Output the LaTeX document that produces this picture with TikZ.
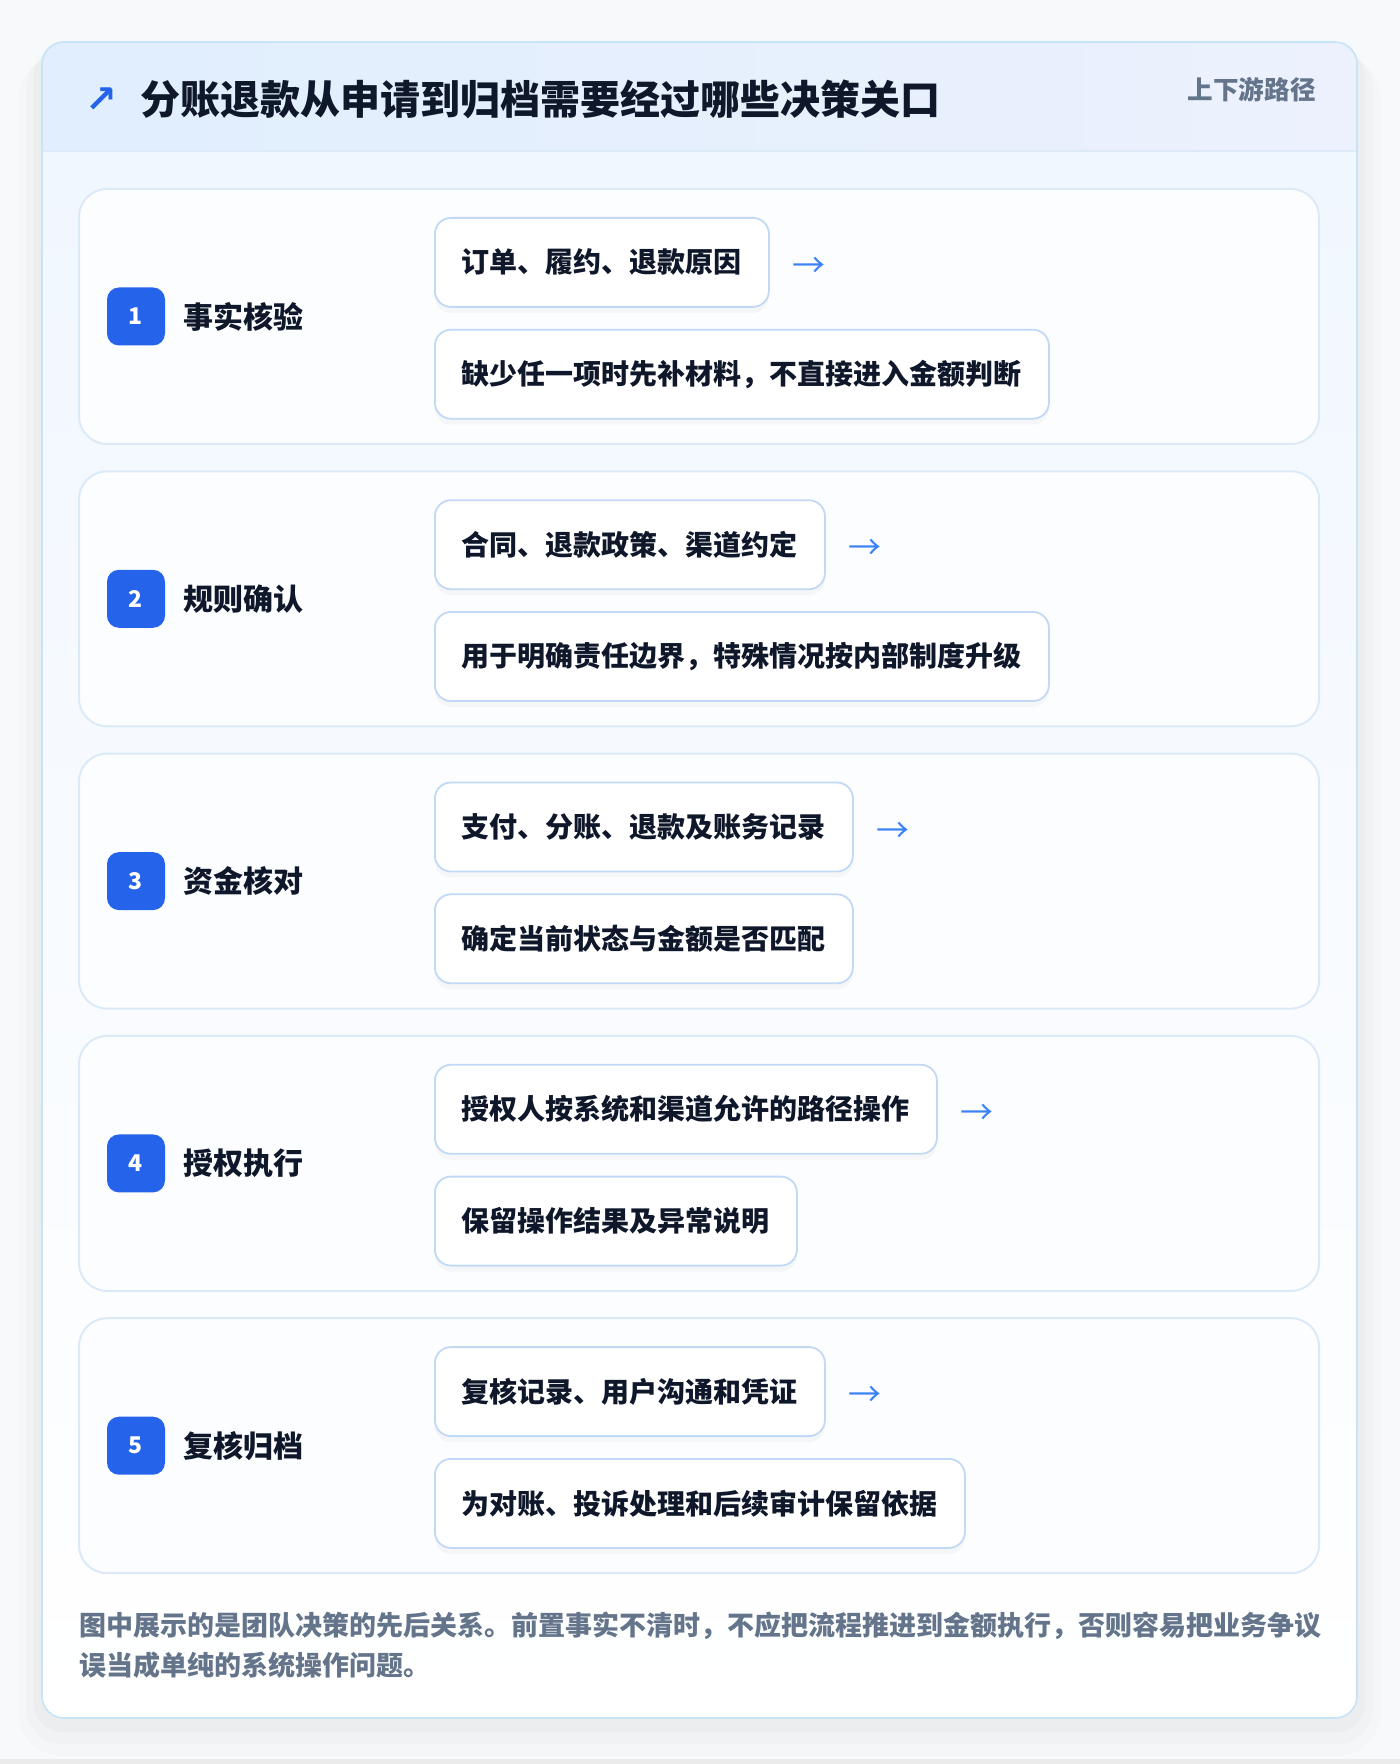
\documentclass[tikz,border=0pt]{standalone}
\usepackage{fontspec}
\setmainfont{Noto Sans CJK SC}
\newfontfamily\symfont{DejaVu Sans}
\usetikzlibrary{positioning,shadows}

\definecolor{pagebg}{HTML}{F8F9FB}
\definecolor{cardline}{HTML}{C6E4F7}
\definecolor{headA}{HTML}{E0EEFD}
\definecolor{headB}{HTML}{ECF1FD}
\definecolor{bodyA}{HTML}{F1F7FF}
\definecolor{rowline}{HTML}{DCEAF8}
\definecolor{rowfill}{HTML}{FCFDFF}
\definecolor{boxline}{HTML}{C2D9F5}
\definecolor{badgeblue}{HTML}{2563EB}
\definecolor{arrowblue}{HTML}{3B82F6}
\definecolor{inktext}{HTML}{0F172A}
\definecolor{graytext}{HTML}{64748B}

\begin{document}
\begin{tikzpicture}[%
x=0.5pt, y=-0.5pt,
rowcard/.style={draw=rowline, line width=1pt, fill=rowfill, rounded corners=14pt},
badge/.style={fill=badgeblue, text=white, rounded corners=6pt, minimum size=29pt,
  inner sep=0pt, font=\bfseries\fontsize{11.5}{13}\selectfont},
steplabel/.style={text=inktext, inner sep=0pt, font=\bfseries\fontsize{15}{18}\selectfont},
factbox/.style={draw=boxline, line width=0.9pt, fill=white, rounded corners=8pt,
  minimum height=44.5pt, inner xsep=13.5pt, text=inktext,
  font=\bfseries\fontsize{14}{17}\selectfont,
  drop shadow={opacity=0.05, shadow xshift=0pt, shadow yshift=-3pt}},
nextarrow/.style={text=arrowblue, inner sep=0pt, font=\fontsize{16.5}{18}\selectfont}
]
\useasboundingbox (0,0) rectangle (1400,1764);
\fill[pagebg] (0,0) rectangle (1400,1764);
\fill[black!8] (0,1759) rectangle (1400,1764);

% outer card with soft shadow
\fill[black, opacity=0.02, rounded corners=14pt] (34,48) rectangle (1365,1732);
\fill[black, opacity=0.015, rounded corners=18pt] (26,52) rectangle (1373,1744);
\fill[black, opacity=0.01, rounded corners=22pt] (18,56) rectangle (1381,1756);
\begin{scope}
\clip[rounded corners=11pt] (42,42) rectangle (1357,1718);
\fill[white] (42,42) rectangle (1357,1718);
\shade[top color=bodyA, bottom color=white] (42,151) rectangle (1357,1718);
\shade[left color=headA, right color=headB] (42,42) rectangle (1357,151);
\draw[rowline, line width=1pt] (42,151) -- (1357,151);
\end{scope}
\draw[cardline, line width=0.8pt, rounded corners=11pt] (42,42) rectangle (1357,1718);

% header
\node[text=badgeblue, inner sep=0pt, font=\symfont\bfseries\fontsize{19}{21}\selectfont] (icon) at (101,100) {↗};
\node[anchor=west, text=inktext, inner sep=0pt, font=\bfseries\fontsize{20}{24}\selectfont] (title) at (140,99) {分账退款从申请到归档需要经过哪些决策关口};
\node[anchor=east, text=graytext, inner sep=0pt, font=\bfseries\fontsize{12.8}{15}\selectfont] (scope tag) at (1316,90) {上下游路径};

% step 1
\draw[rowcard] (79,189) rectangle (1319,444);
\node[badge] (s1) at (136,316.5) {1};
\node[steplabel, right=9pt of s1] (l1) {事实核验};
\node[factbox, anchor=north west] (s1a) at (434,217) {订单、履约、退款原因};
\node[factbox, below=10.5pt of s1a.south west, anchor=north west] (s1b) {缺少任一项时先补材料，不直接进入金额判断};
\node[nextarrow, right=11pt of s1a, yshift=-2.5pt] (n1) {→};

% step 2
\draw[rowcard] (79,471.3) rectangle (1319,726.3);
\node[badge] (s2) at (136,598.8) {2};
\node[steplabel, right=9pt of s2] (l2) {规则确认};
\node[factbox, anchor=north west] (s2a) at (434,499.3) {合同、退款政策、渠道约定};
\node[factbox, below=10.5pt of s2a.south west, anchor=north west] (s2b) {用于明确责任边界，特殊情况按内部制度升级};
\node[nextarrow, right=11pt of s2a, yshift=-2.5pt] (n2) {→};

% step 3
\draw[rowcard] (79,753.6) rectangle (1319,1008.6);
\node[badge] (s3) at (136,881.1) {3};
\node[steplabel, right=9pt of s3] (l3) {资金核对};
\node[factbox, anchor=north west] (s3a) at (434,781.6) {支付、分账、退款及账务记录};
\node[factbox, below=10.5pt of s3a.south west, anchor=north west] (s3b) {确定当前状态与金额是否匹配};
\node[nextarrow, right=11pt of s3a, yshift=-2.5pt] (n3) {→};

% step 4
\draw[rowcard] (79,1035.9) rectangle (1319,1290.9);
\node[badge] (s4) at (136,1163.4) {4};
\node[steplabel, right=9pt of s4] (l4) {授权执行};
\node[factbox, anchor=north west] (s4a) at (434,1063.9) {授权人按系统和渠道允许的路径操作};
\node[factbox, below=10.5pt of s4a.south west, anchor=north west] (s4b) {保留操作结果及异常说明};
\node[nextarrow, right=11pt of s4a, yshift=-2.5pt] (n4) {→};

% step 5
\draw[rowcard] (79,1318.2) rectangle (1319,1573.2);
\node[badge] (s5) at (136,1445.7) {5};
\node[steplabel, right=9pt of s5] (l5) {复核归档};
\node[factbox, anchor=north west] (s5a) at (434,1346.2) {复核记录、用户沟通和凭证};
\node[factbox, below=10.5pt of s5a.south west, anchor=north west] (s5b) {为对账、投诉处理和后续审计保留依据};
\node[nextarrow, right=11pt of s5a, yshift=-2.5pt] (n5) {→};

% footer note
\node[anchor=west, align=left, text=graytext, inner sep=0pt, font=\bfseries\fontsize{13.5}{20}\selectfont] (note) at (79,1645)
{图中展示的是团队决策的先后关系。前置事实不清时，不应把流程推进到金额执行，否则容易把业务争议\\误当成单纯的系统操作问题。};
\end{tikzpicture}
\end{document}
